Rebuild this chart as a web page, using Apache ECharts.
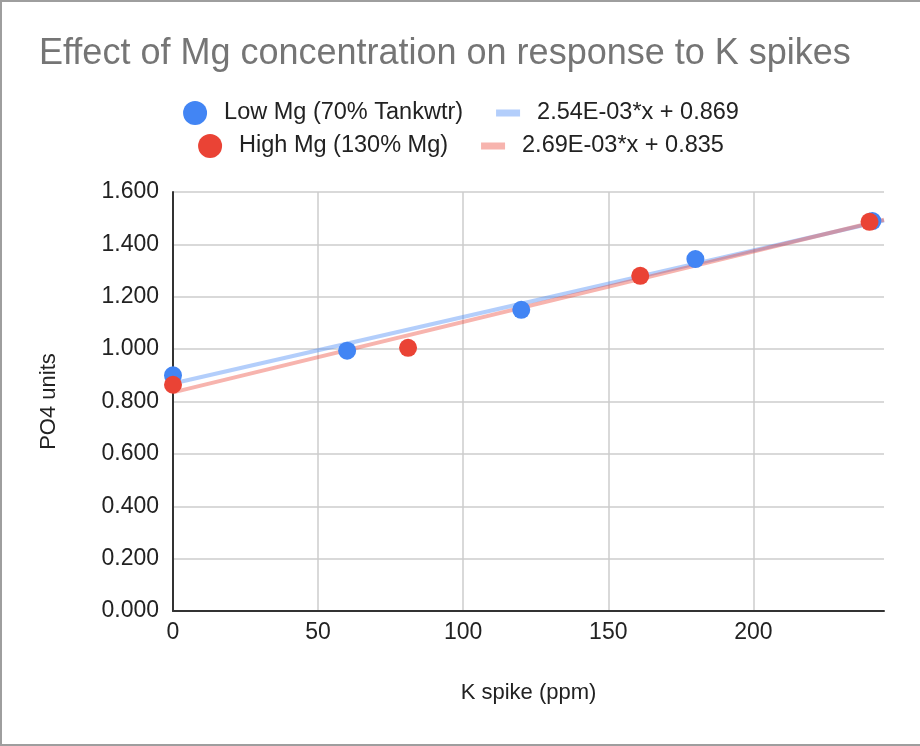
<!DOCTYPE html>
<html>
<head>
<meta charset="utf-8">
<script src="https://cdn.jsdelivr.net/npm/echarts@6/dist/echarts.min.js"></script>
<style>
* { margin: 0; padding: 0; }
body { background: #fff; }
#frame {
    width: 920px; height: 746px; box-sizing: border-box;
    border-top: 2px solid #9e9e9e; border-left: 2px solid #9e9e9e; border-bottom: 2px solid #9e9e9e;
}
#chart { width: 918px; height: 742px; }
</style>
</head>
<body>
<div id="frame"><div id="chart"></div></div>
<script>
// K spike (ppm) vs PO4 units
const lowX = [0, 60, 120, 180, 241]
const lowY = [0.900, 0.994, 1.150, 1.344, 1.489]
const highX = [0, 81, 161, 240]
const highY = [0.864, 1.005, 1.280, 1.486]

// trendlines as shown in the legend
const lowTrend = { slope: 2.54e-3, icpt: 0.869, label: '2.54E-03*x + 0.869' }
const highTrend = { slope: 2.69e-3, icpt: 0.835, label: '2.69E-03*x + 0.835' }
const xMax = 245

const lowName = 'Low Mg (70% Tankwtr)'
const highName = 'High Mg (130% Mg)'

const font = '"Liberation Sans", Arial, sans-serif'
const lineIcon = 'path://M0,0 L24,0 L24,7 L0,7 Z'

function pairs(xs, ys) {
    return xs.map((x, i) => [x, ys[i]])
}
function trendPts(t) {
    return [[0, t.icpt], [xMax, t.icpt + t.slope * xMax]]
}

const legendBase = {
    left: 'center',
    itemGap: 33,
    itemWidth: 24,
    itemHeight: 24,
    textStyle: { fontFamily: font, fontSize: 23.5, color: '#222', padding: [0, 0, 0, 12] }
}

const chart = echarts.init(document.getElementById('chart'))
chart.setOption({
    animation: false,
    title: {
        text: 'Effect of Mg concentration on response to K spikes',
        left: 32,
        top: 29,
        textStyle: { fontFamily: font, fontSize: 36, fontWeight: 'normal', color: '#757575' }
    },
    legend: [
        Object.assign({}, legendBase, {
            top: 94,
            data: [
                { name: lowName, icon: 'circle' },
                { name: lowTrend.label, icon: lineIcon }
            ]
        }),
        Object.assign({}, legendBase, {
            top: 127,
            data: [
                { name: highName, icon: 'circle' },
                { name: highTrend.label, icon: lineIcon }
            ]
        })
    ],
    grid: { left: 171, right: 36, top: 190, bottom: 133 },
    xAxis: {
        type: 'value',
        min: 0,
        max: xMax,
        interval: 50,
        name: 'K spike (ppm)',
        nameLocation: 'middle',
        nameGap: 71,
        nameTextStyle: { fontFamily: font, fontSize: 22, color: '#222' },
        axisLine: { show: true, onZero: false, lineStyle: { color: '#333', width: 2 } },
        axisTick: { show: false },
        axisLabel: {
            fontFamily: font, fontSize: 23, color: '#222', margin: 10,
            showMaxLabel: false,
            formatter: v => (v % 50 === 0 ? String(v) : '')
        },
        splitLine: { show: true, showMaxLine: false, lineStyle: { color: '#cccccc', width: 1.5 } }
    },
    yAxis: {
        type: 'value',
        min: 0,
        max: 1.6,
        interval: 0.2,
        name: 'PO4 units',
        nameLocation: 'middle',
        nameGap: 113,
        nameTextStyle: { fontFamily: font, fontSize: 22, color: '#222' },
        axisLine: { show: true, lineStyle: { color: '#333', width: 2 } },
        axisTick: { show: false },
        axisLabel: {
            fontFamily: font, fontSize: 23, color: '#222', margin: 14,
            formatter: v => v.toFixed(3)
        },
        splitLine: { show: true, lineStyle: { color: '#cccccc', width: 1.5 } }
    },
    series: [
        {
            name: lowTrend.label,
            type: 'line',
            data: trendPts(lowTrend),
            showSymbol: false,
            color: 'rgba(66,133,244,0.4)',
            lineStyle: { width: 4 },
            z: 2
        },
        {
            name: highTrend.label,
            type: 'line',
            data: trendPts(highTrend),
            showSymbol: false,
            color: 'rgba(234,67,53,0.4)',
            lineStyle: { width: 4 },
            z: 2
        },
        {
            name: lowName,
            type: 'scatter',
            data: pairs(lowX, lowY),
            symbolSize: 18,
            color: '#4285f4',
            itemStyle: { opacity: 1 },
            z: 3
        },
        {
            name: highName,
            type: 'scatter',
            data: pairs(highX, highY),
            symbolSize: 18,
            color: '#ea4335',
            itemStyle: { opacity: 1 },
            z: 4
        }
    ]
})
</script>
</body>
</html>
